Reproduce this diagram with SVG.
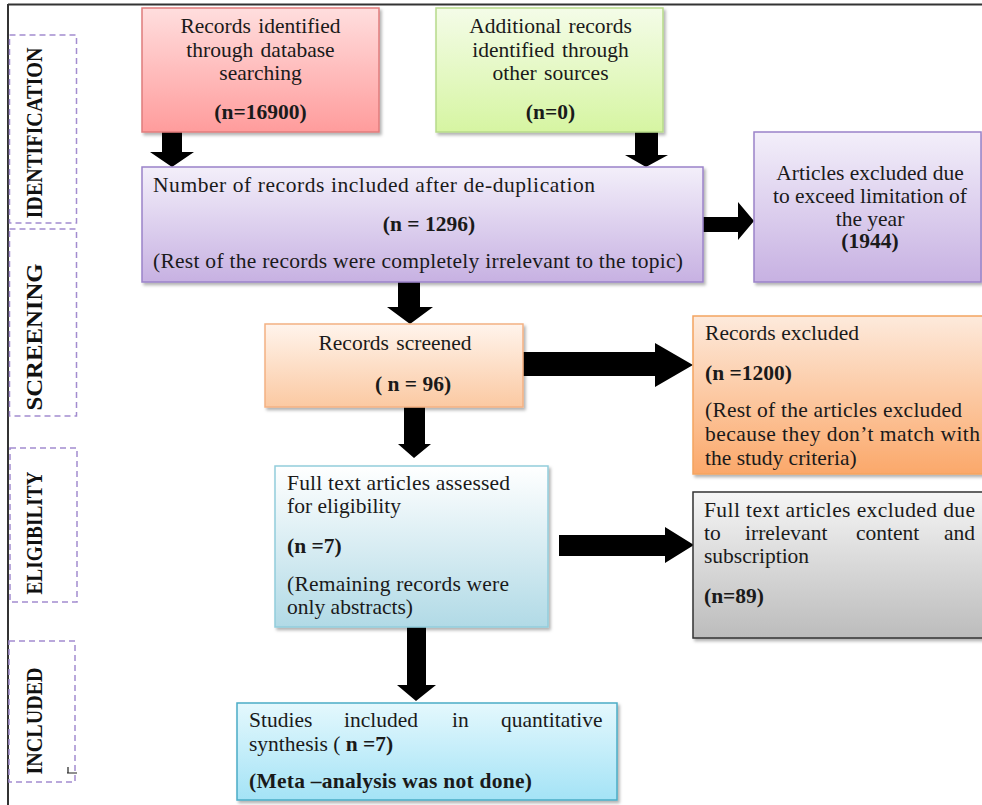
<svg xmlns="http://www.w3.org/2000/svg" width="982" height="805" viewBox="0 0 982 805">
<defs>
<style>
.t{font-family:"Liberation Serif","Times New Roman",serif;font-size:21.5px;fill:#1a1a1a}
.b{font-weight:bold}
.ph{font-family:"Liberation Serif","Times New Roman",serif;font-size:20px;font-weight:bold;fill:#111}
.dash{fill:none;stroke:#a28ccf;stroke-width:1.5;stroke-dasharray:6 4}
.arr{fill:#000}
</style>
<filter id="sh" x="-5%" y="-5%" width="115%" height="120%">
<feDropShadow dx="2" dy="2.5" stdDeviation="1.5" flood-color="#000" flood-opacity="0.3"/>
</filter>
<linearGradient id="gRed" x1="0" y1="0" x2="0" y2="1"><stop offset="0" stop-color="#ffdede"/><stop offset="1" stop-color="#ff9c9c"/></linearGradient>
<linearGradient id="gGreen" x1="0" y1="0" x2="0" y2="1"><stop offset="0" stop-color="#f4fce8"/><stop offset="1" stop-color="#d6f5a2"/></linearGradient>
<linearGradient id="gPurple" x1="0" y1="0" x2="0" y2="1"><stop offset="0" stop-color="#f3effa"/><stop offset="1" stop-color="#c7b1e2"/></linearGradient>
<linearGradient id="gScr" x1="0" y1="0" x2="0" y2="1"><stop offset="0" stop-color="#fff4ec"/><stop offset="1" stop-color="#fbc9a2"/></linearGradient>
<linearGradient id="gOrange" x1="0" y1="0" x2="0" y2="1"><stop offset="0" stop-color="#fdeadc"/><stop offset="1" stop-color="#fba86a"/></linearGradient>
<linearGradient id="gFull" x1="0" y1="0" x2="0" y2="1"><stop offset="0" stop-color="#ffffff"/><stop offset="1" stop-color="#b1dae6"/></linearGradient>
<linearGradient id="gGray" x1="0" y1="0" x2="0" y2="1"><stop offset="0" stop-color="#f5f5f5"/><stop offset="1" stop-color="#bcbcbc"/></linearGradient>
<linearGradient id="gStud" x1="0" y1="0" x2="0" y2="1"><stop offset="0" stop-color="#e4f8fd"/><stop offset="1" stop-color="#a4e3f6"/></linearGradient>
</defs>
<rect x="0" y="0" width="982" height="805" fill="#fff"/>
<g id="frame">
<line x1="8" y1="4.5" x2="982" y2="4.5" stroke="#333" stroke-width="2"/>
<line x1="8" y1="4" x2="8" y2="805" stroke="#333" stroke-width="2"/>
</g>
<g id="phase-identification">
<rect class="dash" x="9.5" y="35" width="67" height="188"/>
<text class="ph" text-anchor="middle" textLength="171" lengthAdjust="spacingAndGlyphs" transform="translate(42,133) rotate(-90) scale(1,1.2)">IDENTIFICATION</text>
</g>
<g id="phase-screening">
<rect class="dash" x="9.5" y="229" width="67" height="187"/>
<text class="ph" text-anchor="middle" textLength="147" lengthAdjust="spacingAndGlyphs" transform="translate(42,337) rotate(-90) scale(1,1.2)">SCREENING</text>
</g>
<g id="phase-eligibility">
<rect class="dash" x="10" y="448" width="67" height="154"/>
<text class="ph" text-anchor="middle" textLength="123" lengthAdjust="spacingAndGlyphs" transform="translate(42,533) rotate(-90) scale(1,1.2)">ELIGIBILITY</text>
</g>
<g id="phase-included">
<rect class="dash" x="9" y="641" width="66" height="141"/>
<text class="ph" text-anchor="middle" textLength="107" lengthAdjust="spacingAndGlyphs" transform="translate(42,721) rotate(-90) scale(1,1.2)">INCLUDED</text>
<path d="M67 773 H77 M68 767 V773" fill="none" stroke="#222" stroke-width="1.2"/>
</g>
<g id="connectors">
<polygon class="arr" points="162,132 182,132 182,152 194,152 172,167 150,152 162,152"/>
<polygon class="arr" points="635,132 658,132 658,155 668,155 646,167 625,155 635,155"/>
<polygon class="arr" points="702,217 738,217 738,202 754,221 738,240 738,232 702,232"/>
<polygon class="arr" points="398,282 420,282 420,307 433,307 410,324 387,307 398,307"/>
<polygon class="arr" points="522,352 655,352 655,343 693,365 655,387 655,376 522,376"/>
<polygon class="arr" points="404,407 425,407 425,444 431,444 414,458 398,444 404,444"/>
<polygon class="arr" points="559,535 665,535 665,527 694,545 665,563 665,556 559,556"/>
<polygon class="arr" points="407,627 426,627 426,685 436,685 416,701 397,685 407,685"/>
</g>
<g id="n-database">
<rect x="142" y="8" width="237" height="124" fill="url(#gRed)" stroke="#e07c7c" stroke-width="1.5" filter="url(#sh)"/>
<text class="t" text-anchor="middle" word-spacing="2"><tspan x="260.5" y="33">Records identified</tspan><tspan x="260.5" y="57">through database</tspan><tspan x="260.5" y="80">searching</tspan><tspan x="260.5" y="119" class="b">(n=16900)</tspan></text>
</g>
<g id="n-other">
<rect x="436" y="8" width="227" height="124" fill="url(#gGreen)" stroke="#b7da8a" stroke-width="1.5" filter="url(#sh)"/>
<text class="t" text-anchor="middle" word-spacing="2"><tspan x="550.5" y="33">Additional records</tspan><tspan x="550.5" y="57">identified through</tspan><tspan x="550.5" y="80">other sources</tspan><tspan x="550.5" y="119" class="b">(n=0)</tspan></text>
</g>
<g id="n-dedup">
<rect x="142" y="167" width="561" height="115" fill="url(#gPurple)" stroke="#9b83c9" stroke-width="1.5" filter="url(#sh)"/>
<text class="t"><tspan x="153" y="192" textLength="442" lengthAdjust="spacing">Number of records included after de-duplication</tspan><tspan x="429" y="231" text-anchor="middle" class="b">(n = 1296)</tspan><tspan x="153" y="268" textLength="530" lengthAdjust="spacing">(Rest of the records were completely irrelevant to the topic)</tspan></text>
</g>
<g id="n-year">
<rect x="754" y="132" width="227" height="150" fill="url(#gPurple)" stroke="#9b83c9" stroke-width="1.5" filter="url(#sh)"/>
<text class="t" text-anchor="middle"><tspan x="870" y="180">Articles excluded due</tspan><tspan x="870" y="203">to exceed limitation of</tspan><tspan x="870" y="226">the year</tspan><tspan x="870" y="248" class="b">(1944)</tspan></text>
</g>
<g id="n-screened">
<rect x="265" y="324" width="258" height="83" fill="url(#gScr)" stroke="#f4b183" stroke-width="1.5" filter="url(#sh)"/>
<text class="t"><tspan x="395" y="350" text-anchor="middle" word-spacing="2">Records screened</tspan><tspan x="413" y="391" text-anchor="middle" class="b">( n = 96)</tspan></text>
</g>
<g id="n-excluded">
<rect x="693" y="316" width="300" height="158" fill="url(#gOrange)" stroke="#f4a460" stroke-width="1.5" filter="url(#sh)"/>
<text class="t"><tspan x="705" y="340" textLength="154" lengthAdjust="spacing">Records excluded</tspan><tspan x="705" y="380" class="b">(n =1200)</tspan><tspan x="705" y="417" textLength="257" lengthAdjust="spacing">(Rest of the articles excluded</tspan><tspan x="705" y="441" textLength="275" lengthAdjust="spacing">because they don’t match with</tspan><tspan x="705" y="465">the study criteria)</tspan></text>
</g>
<g id="n-fulltext">
<rect x="275" y="466" width="273" height="161" fill="url(#gFull)" stroke="#92cddc" stroke-width="1.5" filter="url(#sh)"/>
<text class="t"><tspan x="287" y="490" textLength="223" lengthAdjust="spacing">Full text articles assessed</tspan><tspan x="287" y="513">for eligibility</tspan><tspan x="287" y="553" class="b">(n =7)</tspan><tspan x="287" y="591" textLength="222" lengthAdjust="spacing">(Remaining records were</tspan><tspan x="287" y="614">only abstracts)</tspan></text>
</g>
<g id="n-fulltext-excluded">
<rect x="693" y="492" width="300" height="146" fill="url(#gGray)" stroke="#333" stroke-width="1.5" filter="url(#sh)"/>
<text class="t"><tspan x="704" y="517" textLength="271" lengthAdjust="spacing">Full text articles excluded due</tspan><tspan x="704" y="540">to</tspan><tspan x="745" y="540">irrelevant</tspan><tspan x="856" y="540">content</tspan><tspan x="944" y="540">and</tspan><tspan x="704" y="563">subscription</tspan><tspan x="704" y="603" class="b">(n=89)</tspan></text>
</g>
<g id="n-included">
<rect x="237" y="703" width="380" height="97" fill="url(#gStud)" stroke="#4bacc6" stroke-width="1.5" filter="url(#sh)"/>
<text class="t"><tspan x="249" y="727">Studies</tspan><tspan x="344" y="727">included</tspan><tspan x="452" y="727">in</tspan><tspan x="501" y="727">quantitative</tspan><tspan x="249" y="751">synthesis ( </tspan><tspan class="b">n =7)</tspan><tspan x="249" y="788" class="b" textLength="283" lengthAdjust="spacing">(Meta –analysis was not done)</tspan></text>
</g>
</svg>
